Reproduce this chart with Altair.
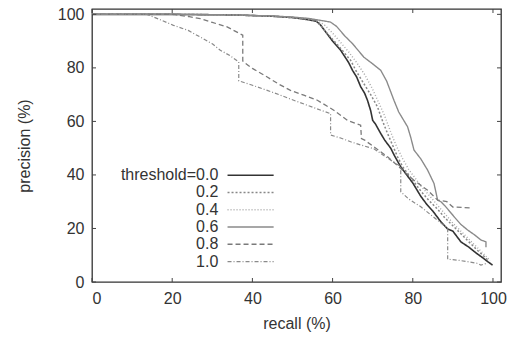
import altair as alt
import pandas as pd

thresholds = ["threshold=0.0", "0.2", "0.4", "0.6", "0.8", "1.0"]

r00 = [0, 20, 35, 45, 50, 54, 56, 57, 58, 60, 62, 64, 65, 66, 67, 68, 68.7, 69.5, 70, 70.7, 72, 73, 74.5, 75.5, 77, 78, 80, 82, 83.5, 85, 87, 88.7, 90, 92, 94, 96, 97.5, 98.7, 99.9]
p00 = [100, 100, 99.8, 99.3, 98.8, 98, 97.4, 96, 94, 90, 86.6, 82, 79, 76.6, 73, 70.5, 67.9, 64, 60.4, 59, 55.5, 53, 50, 47, 43, 41, 37, 32, 29, 26.5, 22.5, 19.8, 19, 15, 13, 10.6, 9, 7.6, 6.3]

r02 = [0, 20, 35, 45, 50, 54, 56, 58.7, 61, 63, 64.5, 66, 67.8, 69.5, 71.2, 72.5, 73.7, 75, 76.2, 77.5, 79, 80.5, 82, 84, 86, 88, 90, 92, 94, 96, 97.5, 98.8]
p02 = [100, 100, 99.8, 99.3, 98.8, 98.2, 97.6, 92.8, 89, 85.5, 82.8, 78.5, 74.1, 70, 65.4, 60, 55.5, 51, 46.8, 43, 40, 37, 34, 30.5, 27.5, 24, 21, 18, 15, 12, 10, 8]

r04 = [0, 20, 35, 45, 50, 54, 56, 58, 60, 62, 64, 66, 68, 70, 71.5, 73, 74.5, 76, 77.5, 79, 80.5, 82, 84, 86, 88, 90, 92, 94, 96, 98, 99.3]
p04 = [100, 100, 99.8, 99.3, 98.9, 98.4, 97.8, 96, 93, 89.5, 86, 82, 77.5, 72, 67, 62, 56, 50.5, 46, 42, 39, 36, 32.5, 29, 25.5, 22, 19, 16, 13, 10, 8]

r06 = [0, 20, 35, 45, 50, 54, 56, 58, 59.5, 61, 63, 65, 67.8, 70, 72, 73.5, 75.3, 76.5, 77.5, 78.7, 79.5, 80.3, 82, 83.7, 85.3, 86.2, 87, 88, 90.3, 92, 93.7, 95.5, 97, 98.25, 98.25]
p06 = [100, 100, 99.8, 99.4, 99, 98.5, 98, 97.5, 97.1, 95.5, 92, 89, 84, 81.5, 79.1, 75, 67.9, 63.5, 61, 58, 54, 49.3, 46, 41.8, 36.8, 30.6, 30, 28.5, 24.4, 21.5, 19.4, 17.5, 15.7, 15, 13]

r08 = [0, 14, 20.3, 24, 27, 30, 33.7, 37.6, 37.6, 38, 40, 43.7, 46.5, 49.5, 53, 56.2, 60.3, 63.7, 67, 67.2, 68, 70.3, 73.7, 77, 80.3, 83.7, 86.2, 88.5, 90, 94.5]
p08 = [100, 100, 100, 99.2, 98.4, 97, 95.3, 92.2, 82.6, 82, 79.8, 76.6, 74, 71.6, 69.7, 67.9, 64.2, 60.4, 58.6, 53.6, 53, 50.5, 46.8, 42.4, 38, 34.3, 30.6, 30, 28, 27.7]

r10 = [0, 13.7, 17, 20.3, 24, 27, 30, 32, 34.5, 36.6, 36.6, 40, 43.7, 47, 50.3, 55, 59.5, 59.5, 62, 64.5, 67, 70.3, 73.5, 77, 77, 79, 82, 85, 88.7, 88.7, 91, 93.7, 96, 97, 98.5]
p10 = [100, 100, 98, 95.9, 94, 91.5, 89, 86.6, 84.5, 82.2, 75.2, 73.5, 71.6, 69.8, 67.9, 65.3, 62.9, 54.9, 53.8, 52.4, 51.2, 49.8, 46.5, 43.1, 33.7, 31, 28.1, 24.5, 20, 8.5, 8.2, 7.6, 7, 6.3, 7]

x_ticks = [0, 20, 40, 60, 80, 100]
y_ticks = [0, 20, 40, 60, 80, 100]

series = [(thresholds[0], r00, p00), (thresholds[1], r02, p02), (thresholds[2], r04, p04),
          (thresholds[3], r06, p06), (thresholds[4], r08, p08), (thresholds[5], r10, p10)]
rows = []
for name, rs, ps in series:
    for i, (r, p) in enumerate(zip(rs, ps)):
        rows.append({"t": name, "recall": r, "precision": p, "order": i})
df = pd.DataFrame(rows)

W, H = 409, 273
XMAX, YMAX = 102, 102
TXT = "#333333"
FONT = "Liberation Sans"
FS = 16

colors = ["#333333", "#888888", "#a8a8a8", "#8a8a8a", "#7a7a7a", "#8a8a8a"]
dashes = [[1, 0], [2, 2], [1, 2], [1, 0], [5, 3], [4, 2, 1, 2]]
widths = [1.6, 1.2, 1.2, 1.1, 1.2, 1.2]

color_scale = alt.Scale(domain=thresholds, range=colors)
dash_scale = alt.Scale(domain=thresholds, range=dashes)
width_scale = alt.Scale(domain=thresholds, range=widths)

xs = alt.Scale(domain=[0, XMAX], nice=False, zero=False)
ys = alt.Scale(domain=[0, YMAX], nice=False, zero=False)

lines = alt.Chart(df).mark_line(clip=True).encode(
    x=alt.X("recall:Q", scale=xs, axis=alt.Axis(
        values=x_ticks, title="recall (%)", grid=False, domain=False, ticks=False,
        labelFontSize=FS, labelColor=TXT, labelFont=FONT, labelPadding=8,
        titleFontSize=FS, titleFont=FONT, titleFontWeight="normal", titleColor=TXT,
        titlePadding=9)),
    y=alt.Y("precision:Q", scale=ys, axis=alt.Axis(
        values=y_ticks, title="precision (%)", grid=False, domain=False, ticks=False,
        labelFontSize=FS, labelColor=TXT, labelFont=FONT, labelPadding=8,
        titleFontSize=FS, titleFont=FONT, titleFontWeight="normal", titleColor=TXT,
        titlePadding=25)),
    color=alt.Color("t:N", scale=color_scale, legend=None),
    strokeDash=alt.StrokeDash("t:N", scale=dash_scale, legend=None),
    strokeWidth=alt.StrokeWidth("t:N", scale=width_scale, legend=None),
    order="order:Q",
    detail="t:N",
)

# custom legend (label left, line sample right), placed in data units
leg_rows = []
for i, name in enumerate(thresholds):
    yv = 39.9 - i * 6.45
    leg_rows.append({"t": name, "x": 33.8, "y": yv, "o": 0, "lx": 31.5})
    leg_rows.append({"t": name, "x": 45.3, "y": yv, "o": 1, "lx": 31.5})
leg = pd.DataFrame(leg_rows)

leg_lines = alt.Chart(leg).mark_line().encode(
    x=alt.X("x:Q", scale=xs), y=alt.Y("y:Q", scale=ys),
    color=alt.Color("t:N", scale=color_scale, legend=None),
    strokeDash=alt.StrokeDash("t:N", scale=dash_scale, legend=None),
    strokeWidth=alt.StrokeWidth("t:N", scale=width_scale, legend=None),
    detail="t:N", order="o:Q",
)
leg_text = alt.Chart(leg[leg["o"] == 0]).mark_text(
    align="right", baseline="middle", fontSize=FS, font=FONT, color=TXT
).encode(x=alt.X("lx:Q", scale=xs), y=alt.Y("y:Q", scale=ys), text="t:N")

# inward tick marks on all four sides
xt = pd.DataFrame({"v": x_ticks})
yt = pd.DataFrame({"v": y_ticks})
tick_col = "#444444"
xb = alt.Chart(xt).mark_rule(color=tick_col, strokeWidth=1).encode(
    x=alt.X("v:Q", scale=xs), y=alt.value(H), y2=alt.value(H - 4))
xtp = alt.Chart(xt).mark_rule(color=tick_col, strokeWidth=1).encode(
    x=alt.X("v:Q", scale=xs), y=alt.value(0), y2=alt.value(4))
yl = alt.Chart(yt).mark_rule(color=tick_col, strokeWidth=1).encode(
    y=alt.Y("v:Q", scale=ys), x=alt.value(0), x2=alt.value(4))
yr = alt.Chart(yt).mark_rule(color=tick_col, strokeWidth=1).encode(
    y=alt.Y("v:Q", scale=ys), x=alt.value(W), x2=alt.value(W - 4))

chart = alt.layer(lines, leg_lines, leg_text, xb, xtp, yl, yr).properties(
    width=W, height=H,
    autosize=alt.AutoSizeParams(type="none"),
    padding={"left": 92, "top": 9, "right": 12, "bottom": 59},
    background="white",
).configure_view(stroke="#333333", strokeWidth=1.3)

chart.save("out.html", embed_options={"renderer": "svg", "actions": False})
